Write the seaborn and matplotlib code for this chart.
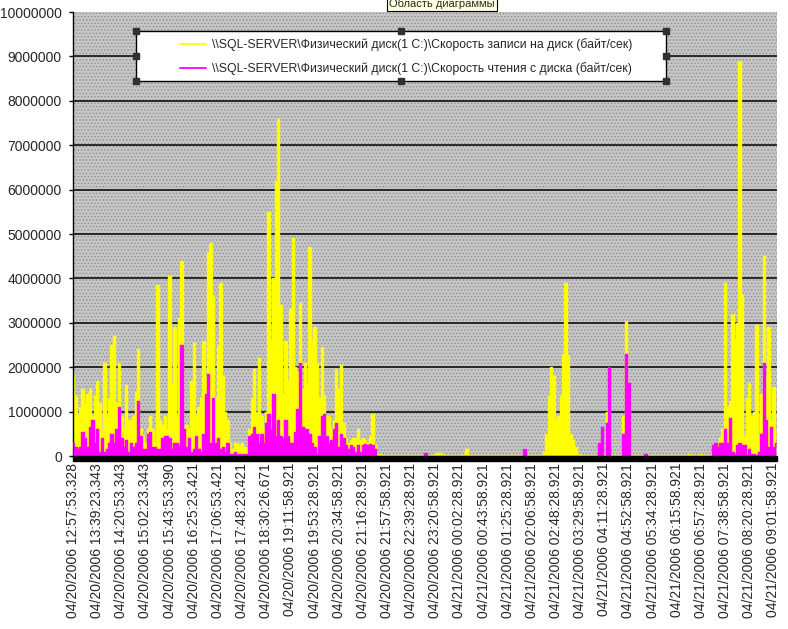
import numpy as np
import pandas as pd
import matplotlib
matplotlib.use("Agg")
import matplotlib.pyplot as plt
import seaborn as sns
from matplotlib.patches import Rectangle
from matplotlib.lines import Line2D

# disk counters, millions of bytes per second, one value per sample
write_speed = [
    1.8, 1.35, 0.9, 1.1, 1.5, 1.2, 1.4, 1.5, 0.9, 1.35,
    1.7, 1.2, 0.6, 2.1, 0.9, 1.3, 2.5, 2.7, 1.2, 2.1,
    0.9, 0.6, 1.6, 0.8, 0.8, 0.9, 1.45, 2.4, 0.6, 0.45,
    0.3, 0.6, 0.9, 0.6, 0.3, 3.85, 0.8, 0.7, 0.9, 0.6,
    4.05, 1.6, 2.9, 0.9, 3.1, 4.4, 0.6, 0.7, 0.6, 1.7,
    2.55, 0.9, 1.1, 1.3, 2.6, 1.8, 4.6, 4.8, 3.6, 1.3,
    2.5, 3.9, 1.8, 1.0, 0.8, 0.3, 0.15, 0.3, 0.3, 0.25,
    0.3, 0.2, 0.15, 0.6, 1.3, 1.95, 1.0, 2.2, 0.9, 0.6,
    1.0, 5.5, 2.6, 4.0, 6.2, 7.6, 3.4, 1.4, 2.6, 1.7,
    3.3, 4.9, 2.0, 1.9, 3.45, 1.5, 2.1, 1.6, 4.7, 2.6,
    2.9, 2.1, 1.3, 2.45, 1.35, 0.9, 0.9, 0.6, 0.8, 1.95,
    1.5, 2.05, 0.75, 0.4, 0.3, 0.35, 0.4, 0.4, 0.6, 0.35,
    0.4, 0.35, 0.3, 0.45, 0.95, 0.25, 0.05, 0.04, 0.03, 0.02,
    0.03, 0.02, 0.02, 0.03, 0.02, 0.02, 0.02, 0.03, 0.02, 0.02,
    0.02, 0.03, 0.02, 0.02, 0.03, 0.02, 0.03, 0.02, 0.02, 0.03,
    0.05, 0.06, 0.07, 0.04, 0.02, 0.02, 0.03, 0.02, 0.02, 0.02,
    0.03, 0.02, 0.04, 0.15, 0.03, 0.02, 0.02, 0.02, 0.03, 0.02,
    0.02, 0.02, 0.03, 0.02, 0.02, 0.02, 0.02, 0.03, 0.02, 0.02,
    0.02, 0.03, 0.02, 0.02, 0.02, 0.03, 0.02, 0.02, 0.02, 0.02,
    0.02, 0.02, 0.03, 0.02, 0.03, 0.1, 0.5, 1.35, 2.0, 1.8,
    0.8, 0.9, 1.35, 2.3, 3.9, 2.25, 0.5, 0.35, 0.2, 0.05,
    0.05, 0.03, 0.02, 0.02, 0.03, 0.02, 0.02, 0.02, 0.02, 0.05,
    0.02, 1.0, 1.3, 0.02, 0.02, 0.03, 0.02, 0.02, 0.9, 3.05,
    1.5, 0.02, 0.02, 0.02, 0.03, 0.02, 0.02, 0.02, 0.03, 0.02,
    0.02, 0.02, 0.02, 0.03, 0.02, 0.02, 0.02, 0.02, 0.03, 0.02,
    0.02, 0.02, 0.02, 0.02, 0.03, 0.04, 0.03, 0.02, 0.02, 0.03,
    0.04, 0.02, 0.03, 0.02, 0.03, 0.1, 0.25, 0.3, 0.4, 0.6,
    3.9, 1.1, 1.25, 3.2, 2.6, 3.0, 8.9, 3.65, 0.45, 1.3,
    1.65, 0.9, 1.0, 2.95, 0.4, 1.4, 4.5, 1.8, 2.9, 0.8,
    1.55, 0.55,
]
read_speed = [
    0.3, 0.2, 0.15, 0.2, 0.55, 0.4, 0.2, 0.65, 0.8, 0.3,
    0.6, 0.1, 0.4, 0.1, 0.15, 0.3, 0.5, 0.3, 0.6, 1.1,
    0.4, 0.2, 0.35, 0.1, 0.3, 0.2, 0.3, 1.25, 0.45, 0.15,
    0.15, 0.5, 0.55, 0.2, 0.2, 0.15, 0.15, 0.4, 0.45, 0.45,
    0.4, 0.15, 0.3, 0.3, 0.25, 2.5, 0.6, 0.2, 0.4, 0.1,
    0.15, 0.45, 0.15, 0.1, 0.5, 1.4, 1.85, 0.3, 1.3, 0.3,
    0.4, 0.15, 0.2, 0.1, 0.3, 0.05, 0.05, 0.1, 0.05, 0.05,
    0.05, 0.05, 0.05, 0.45, 0.5, 0.65, 0.5, 0.3, 0.5, 0.3,
    0.75, 0.95, 0.6, 1.4, 0.45, 0.8, 0.45, 0.4, 0.8, 0.45,
    0.3, 0.3, 0.55, 1.05, 2.1, 0.65, 0.6, 0.6, 0.5, 0.3,
    0.2, 0.05, 0.45, 0.9, 0.95, 0.45, 0.3, 0.35, 0.6, 0.75,
    0.2, 0.5, 0.4, 0.25, 0.15, 0.25, 0.2, 0.1, 0.25, 0.1,
    0.25, 0.28, 0.25, 0.28, 0.25, 0.15, 0.0, 0.0, 0.0, 0.0,
    0.0, 0.0, 0.0, 0.0, 0.0, 0.0, 0.0, 0.0, 0.0, 0.0,
    0.0, 0.0, 0.0, 0.0, 0.0, 0.0, 0.07, 0.0, 0.0, 0.0,
    0.0, 0.0, 0.0, 0.0, 0.0, 0.0, 0.0, 0.0, 0.0, 0.0,
    0.0, 0.0, 0.0, 0.0, 0.0, 0.0, 0.0, 0.0, 0.0, 0.0,
    0.0, 0.0, 0.0, 0.0, 0.0, 0.0, 0.0, 0.0, 0.0, 0.0,
    0.0, 0.0, 0.0, 0.0, 0.0, 0.0, 0.0, 0.15, 0.0, 0.0,
    0.0, 0.0, 0.0, 0.0, 0.0, 0.0, 0.0, 0.0, 0.0, 0.0,
    0.0, 0.0, 0.0, 0.0, 0.0, 0.0, 0.0, 0.0, 0.0, 0.0,
    0.0, 0.0, 0.0, 0.0, 0.0, 0.0, 0.0, 0.0, 0.3, 0.65,
    0.0, 0.75, 2.0, 0.0, 0.0, 0.0, 0.0, 0.0, 0.5, 2.3,
    1.65, 0.0, 0.0, 0.0, 0.0, 0.0, 0.0, 0.04, 0.0, 0.0,
    0.0, 0.0, 0.0, 0.0, 0.0, 0.0, 0.0, 0.0, 0.0, 0.0,
    0.0, 0.0, 0.0, 0.0, 0.0, 0.0, 0.0, 0.0, 0.0, 0.0,
    0.0, 0.0, 0.0, 0.0, 0.0, 0.25, 0.3, 0.2, 0.3, 0.3,
    0.6, 0.3, 0.85, 0.1, 0.05, 0.25, 0.3, 0.25, 0.25, 0.02,
    0.15, 0.05, 0.05, 0.02, 0.1, 0.5, 2.1, 0.8, 0.2, 0.65,
    0.2, 0.3,
]
tick_labels = [
    "04/20/2006 12:57:53.328", "04/20/2006 13:39:23.343", "04/20/2006 14:20:53.343",
    "04/20/2006 15:02:23.343", "04/20/2006 15:43:53.390", "04/20/2006 16:25:23.421",
    "04/20/2006 17:06:53.421", "04/20/2006 17:48:23.421", "04/20/2006 18:30:26.671",
    "04/20/2006 19:11:58.921", "04/20/2006 19:53:28.921", "04/20/2006 20:34:58.921",
    "04/20/2006 21:16:28.921", "04/20/2006 21:57:58.921", "04/20/2006 22:39:28.921",
    "04/20/2006 23:20:58.921", "04/21/2006 00:02:28.921", "04/21/2006 00:43:58.921",
    "04/21/2006 01:25:28.921", "04/21/2006 02:06:58.921", "04/21/2006 02:48:28.921",
    "04/21/2006 03:29:58.921", "04/21/2006 04:11:28.921", "04/21/2006 04:52:58.921",
    "04/21/2006 05:34:28.921", "04/21/2006 06:15:58.921", "04/21/2006 06:57:28.921",
    "04/21/2006 07:38:58.921", "04/21/2006 08:20:28.921", "04/21/2006 09:01:58.921",
]
series_names = [
    "\\\\SQL-SERVER\\Физический диск(1 C:)\\Скорость записи на диск (байт/сек)",
    "\\\\SQL-SERVER\\Физический диск(1 C:)\\Скорость чтения с диска (байт/сек)",
]
y_ticks = [0, 1000000, 2000000, 3000000, 4000000, 5000000,
           6000000, 7000000, 8000000, 9000000, 10000000]

df = pd.DataFrame({
    "sample": np.arange(len(write_speed)),
    "write": np.array(write_speed) * 1e6,
    "read": np.array(read_speed) * 1e6,
})

sns.set_style("white")
plt.rcParams["font.family"] = ["Liberation Sans", "DejaVu Sans"]
plt.rcParams["hatch.linewidth"] = 0.6

fig = plt.figure(figsize=(7.88, 6.29), dpi=100)
ax = fig.add_axes([73 / 788, 1 - 456 / 629, 704 / 788, 444 / 629])

# dotted grey plot area like the Excel pattern fill
ax.add_patch(Rectangle((0, 0), 1, 1, transform=ax.transAxes, facecolor="#c6c6c6",
                       edgecolor="#8e8e8e", hatch=".....", lw=0, zorder=0))
for v in y_ticks[1:-1]:
    ax.axhline(v, color="black", lw=1.1, zorder=1)

# the counters are so dense in the original that each trace reads as a filled band
ax.fill_between(df["sample"], 0, df["write"], step="mid", color="#ffff00", lw=0, zorder=2)
sns.lineplot(data=df, x="sample", y="write", color="#ffff00", lw=1, drawstyle="steps-mid",
             estimator=None, ax=ax, zorder=2)
ax.fill_between(df["sample"], 0, df["read"], step="mid", color="#ff00ff", lw=0, zorder=3)
sns.lineplot(data=df, x="sample", y="read", color="#ff00ff", lw=1, drawstyle="steps-mid",
             estimator=None, ax=ax, zorder=3)

ax.set_xlim(0, 291.5)
ax.set_ylim(0, 10000000)
ax.set_yticks(y_ticks)
ax.set_yticklabels([str(v) for v in y_ticks], fontsize=10)
ax.set_xticks(np.arange(0, len(tick_labels) * 10, 10))
ax.set_xticklabels(tick_labels, rotation=90, fontsize=10)
ax.set_xlabel("")
ax.set_ylabel("")
ax.tick_params(axis="x", length=0, pad=5)
ax.tick_params(axis="y", length=3, width=1, color="black", pad=5, left=True)
for s in ["top", "right", "bottom"]:
    ax.spines[s].set_visible(False)
ax.spines["left"].set_color("black")
ax.spines["left"].set_linewidth(1)

# dense category tick marks form a black band under the axis
ax.add_patch(Rectangle((0, -5 / 444), 1, 5 / 444, transform=ax.transAxes,
                       clip_on=False, color="black", zorder=5))

# legend box with selection handles
bx, by, bw, bh = (136 - 73) / 704, (456 - 81) / 444, 530 / 704, 50 / 444
ax.add_patch(Rectangle((bx, by), bw, bh, transform=ax.transAxes, facecolor="white",
                       edgecolor="black", lw=1, zorder=6, clip_on=False))
hx = [bx, bx + bw / 2, bx + bw, bx, bx + bw, bx, bx + bw / 2, bx + bw]
hy = [by + bh, by + bh, by + bh, by + bh / 2, by + bh / 2, by, by, by]
ax.plot(hx, hy, ls="none", marker="s", ms=3.8, color="#303030",
        transform=ax.transAxes, clip_on=False, zorder=7)
handles = [Line2D([], [], color="#ffff00", lw=1.3), Line2D([], [], color="#ff00ff", lw=1.3)]
leg = ax.legend(handles, series_names, loc="upper left",
                bbox_to_anchor=((180 - 73) / 704, (456 - 38) / 444),
                frameon=False, fontsize=8.8, handlelength=2.1, handletextpad=0.55,
                labelspacing=0.95, borderpad=0, borderaxespad=0)
leg.set_zorder(8)

fig.text(442 / 788, 1 - 4 / 629, "Область диаграммы", fontsize=8, ha="center", va="center",
         bbox=dict(boxstyle="square,pad=0.2", fc="#ffffe1", ec="black", lw=0.8))

fig.savefig("out.png", dpi=100)
